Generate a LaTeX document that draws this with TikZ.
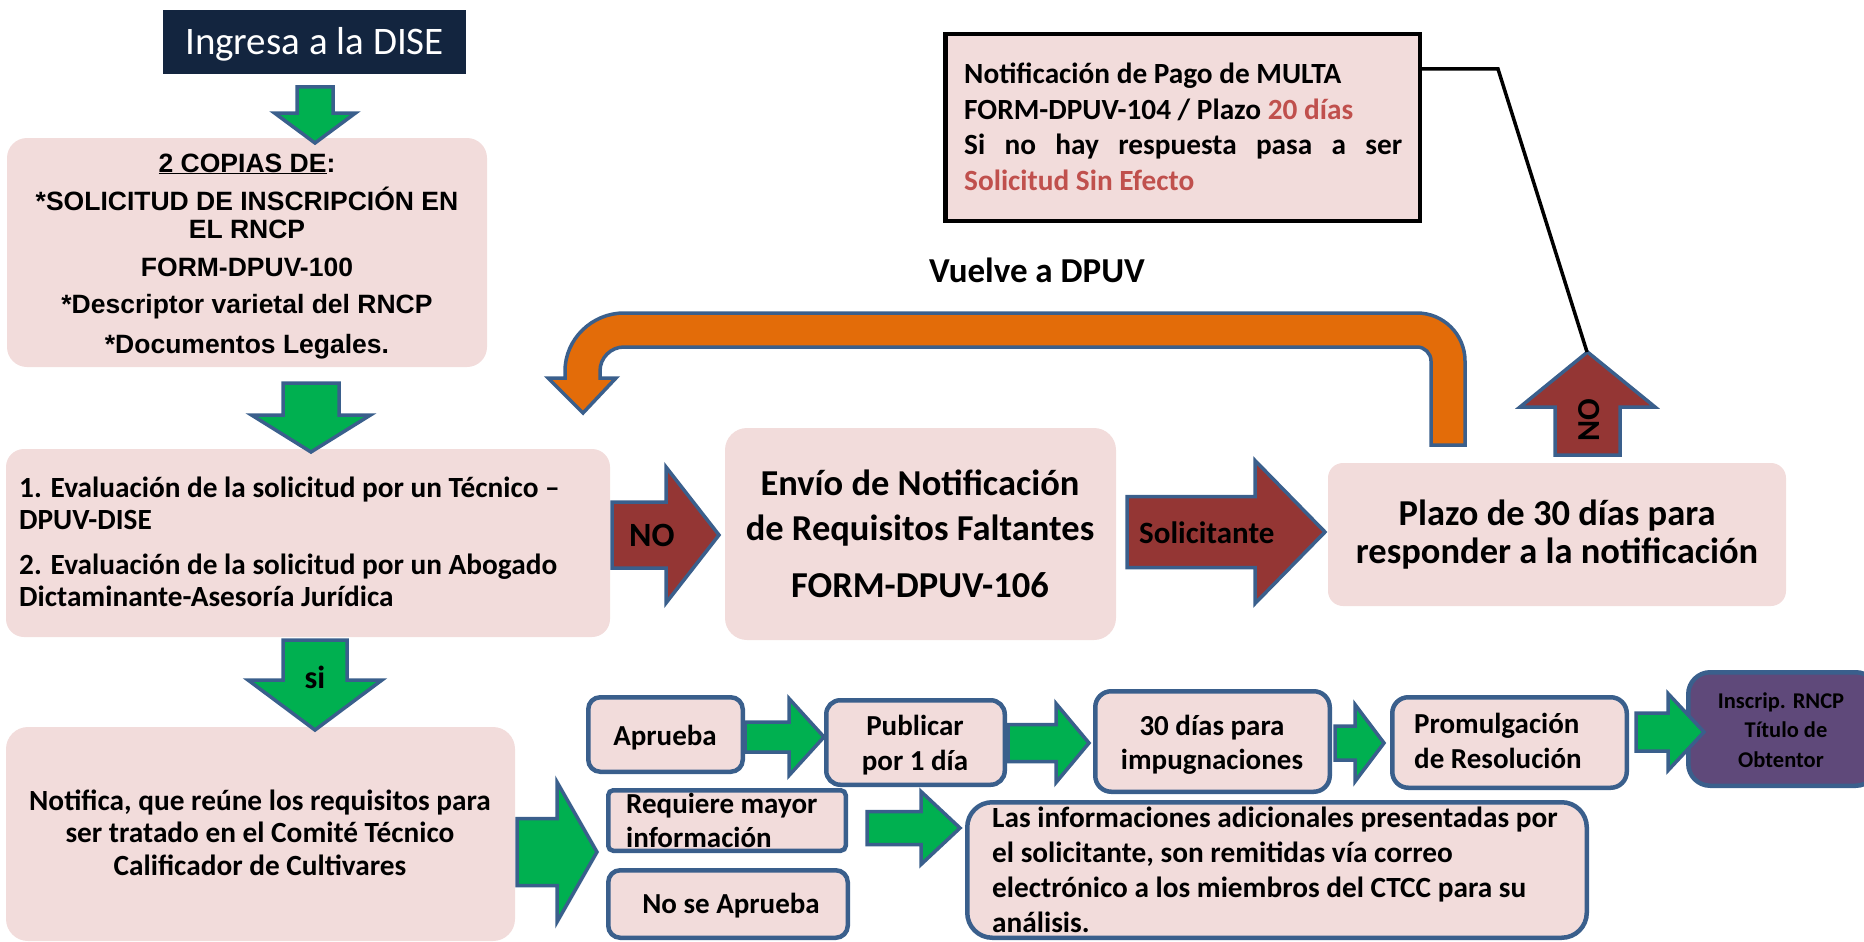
\documentclass[tikz,border=0pt]{standalone}
\usepackage{fontspec}
\setmainfont{Carlito}
\newfontfamily\arialf{Liberation Sans}
\definecolor{cPink}{HTML}{F2DCDB}
\definecolor{cNavy}{HTML}{13253F}
\definecolor{cBlue}{HTML}{3A5F8C}
\definecolor{cGreen}{HTML}{00B050}
\definecolor{cDRed}{HTML}{943634}
\definecolor{cOrange}{HTML}{E36C09}
\definecolor{cRed}{HTML}{C0504D}
\definecolor{cPurple}{HTML}{5F497A}
\newcommand\fs[2]{\fontsize{#1}{#2}\selectfont}
% right block arrow: x1 x2 x3 yc shaft-half head-half style
\newcommand\harrow[7]{\draw[#7] (#1,#4-#5) -- (#2,#4-#5) -- (#2,#4-#6) -- (#3,#4) -- (#2,#4+#6) -- (#2,#4+#5) -- (#1,#4+#5) -- cycle;}
% vertical block arrow: ystart ybase ytip xc shaft-half head-half style
\newcommand\varrow[7]{\draw[#7] (#4-#5,#1) -- (#4+#5,#1) -- (#4+#5,#2) -- (#4+#6,#2) -- (#4,#3) -- (#4-#6,#2) -- (#4-#5,#2) -- cycle;}
\tikzset{
  pbox/.style={rectangle, fill=cPink, inner sep=0pt},
  bbox/.style={rectangle, fill=cPink, draw=cBlue, line width=4.5pt, inner sep=0pt},
  txt/.style={inner sep=0pt, anchor=base, font=\bfseries},
  garr/.style={fill=cGreen, draw=cBlue, line width=3.5pt, line join=miter},
  rarr/.style={fill=cDRed, draw=cBlue, line width=3.5pt, line join=miter},
}
\begin{document}
\begin{tikzpicture}[x=1pt,y=-1pt]
\useasboundingbox (0,0) rectangle (1864,942);

% ---- boxes ----
\node[rectangle, fill=cNavy, minimum width=303pt, minimum height=64pt, inner sep=0pt] (ingresa) at (314.5,42) {};
\node[pbox, rounded corners=20pt, minimum width=480pt, minimum height=229pt] (copias) at (247,252.5) {};
\node[pbox, draw=black, line width=4.5pt, minimum width=474.5pt, minimum height=186.5pt] (nbox) at (1182.5,127.5) {};
\node[pbox, rounded corners=18pt, minimum width=604pt, minimum height=188pt] (eval) at (308,543) {};
\node[pbox, rounded corners=22pt, minimum width=391pt, minimum height=212pt] (envio) at (920.5,534) {};
\node[pbox, rounded corners=15pt, minimum width=458pt, minimum height=143pt] (plazo) at (1557,534.5) {};
\node[pbox, rounded corners=22pt, minimum width=509pt, minimum height=214pt] (notifica) at (260.5,834) {};
\node[bbox, rounded corners=12pt, minimum width=154.5pt, minimum height=74.5pt] (aprueba) at (665.5,734.5) {};
\node[bbox, rounded corners=14pt, minimum width=178.5pt, minimum height=84.5pt] (publicar) at (915.5,742.5) {};
\node[bbox, rounded corners=16pt, minimum width=234.5pt, minimum height=100.5pt] (dias) at (1212.5,741.5) {};
\node[bbox, rounded corners=16pt, minimum width=234.5pt, minimum height=90.5pt] (prom) at (1509.5,742.5) {};
\node[bbox, fill=cPurple, rounded corners=22pt, minimum width=189.5pt, minimum height=113.5pt] (inscr) at (1783,729) {};
\node[bbox, rounded corners=5pt, minimum width=237.5pt, minimum height=60.5pt] (req) at (727,820.5) {};
\node[bbox, rounded corners=12pt, minimum width=239.5pt, minimum height=67.5pt] (nose) at (728,904) {};
\node[bbox, rounded corners=25pt, minimum width=619.5pt, minimum height=135.5pt] (lasinfo) at (1277,870) {};

% ---- block arrows ----
\varrow{87}{113}{143}{315}{18}{40.5}{garr}
\varrow{383}{415}{452}{311}{28}{59.5}{garr}
\varrow{640}{680}{730}{315}{32}{67}{garr}
\varrow{455}{407}{352}{1587.5}{32.5}{67.5}{rarr}
\harrow{612}{666}{719}{535}{33}{68}{rarr}
\harrow{1127}{1255}{1325}{532}{35.5}{71.5}{rarr}
\harrow{517}{557}{597}{852}{33.5}{70}{garr}
\harrow{745}{789}{824}{737}{15}{38.5}{garr}
\harrow{1008}{1056}{1089}{743}{18.5}{39.5}{garr}
\harrow{1335}{1355}{1384}{743}{17}{38.5}{garr}
\harrow{1636}{1668}{1704}{732}{19}{38.5}{garr}
\harrow{867}{921}{960}{828}{16.5}{36.5}{garr}

% orange return arrow
\draw[fill=cOrange, draw=cBlue, line width=3.5pt, line join=miter]
  (1465,445) -- (1465,361) .. controls (1465,334.5) and (1443.5,313) .. (1417,313)
  -- (624,313) .. controls (592,313) and (565,339) .. (565,371)
  -- (565,378) -- (548,378) -- (583,413) -- (616,378) -- (600,378) -- (600,371)
  .. controls (600,357.8) and (610.8,347) .. (624,347)
  -- (1417,347) .. controls (1424.7,347) and (1431,353.3) .. (1431,361)
  -- (1431,445) -- cycle;

% connector from the MULTA box to the NO arrow
\coordinate (notip) at (1587,352);
\draw[line width=3.5pt] ([yshift=58.5pt]nbox.east) -- ++(76,0) -- (notip);

% ---- texts ----
\node[inner sep=0pt, anchor=base, text=white] (ingresat) at (314.5,55) {\fs{39}{44}Ingresa a la DISE};
\node[txt] (copiast) at (247,172) {\parbox[t]{470pt}{\centering\arialf\bfseries\fs{26.5}{28}\underline{2 COPIAS DE}:\\[10pt]
  *SOLICITUD DE INSCRIPCIÓN EN\\ EL RNCP\\[10pt] FORM-DPUV-100\\[9pt] *Descriptor varietal del RNCP\\[12pt] *Documentos Legales.}};
\node[txt, anchor=base west] (nboxt) at (964,84) {\parbox[t]{438pt}{\raggedright\fs{29.3}{35.5}Notificación de Pago de MULTA\\
  FORM-DPUV-104 / Plazo \textcolor{cRed}{20 días}\\ \makebox[438pt][s]{Si no hay respuesta pasa a ser}\\ \textcolor{cRed}{Solicitud Sin Efecto}}};
\node[txt] (vuelve) at (1037,282) {\fs{35}{40}Vuelve a DPUV};
\node[txt, anchor=base west] (evalt) at (19,497) {\parbox[t]{590pt}{\raggedright\fs{29.3}{32}1. Evaluación de la solicitud por un Técnico –\\
  DPUV-DISE\\[13pt] 2. Evaluación de la solicitud por un Abogado\\ Dictaminante-Asesoría Jurídica}};
\node[txt] (enviot) at (920,495) {\parbox[t]{390pt}{\centering\fs{36.5}{45}Envío de Notificación\\ de Requisitos Faltantes\\[12pt] FORM-DPUV-106}};
\node[txt] (plazot) at (1557,525) {\parbox[t]{450pt}{\centering\fs{36.5}{38}Plazo de 30 días para\\ responder a la notificación}};
\node[txt] (notificat) at (260,810) {\parbox[t]{500pt}{\centering\fs{29.3}{32.5}Notifica, que reúne los requisitos para\\ ser tratado en el Comité Técnico\\ Calificador de Cultivares}};
\node[txt] (apruebat) at (665,745) {\fs{29}{34}Aprueba};
\node[txt] (publicart) at (915,735) {\parbox[t]{175pt}{\centering\fs{29}{35}Publicar\\ por 1 día}};
\node[txt] (diast) at (1212,735) {\parbox[t]{230pt}{\centering\fs{29}{34}30 días para\\ impugnaciones}};
\node[txt, anchor=base west] (promt) at (1414,733) {\parbox[t]{210pt}{\raggedright\fs{29}{35}Promulgación\\ de Resolución}};
\node[txt] (inscrt) at (1781,708) {\parbox[t]{180pt}{\centering\fs{22.5}{29.5}Inscrip. RNCP\\ \hspace*{10pt}Título de\\ Obtentor}};
\node[txt, anchor=base west] (reqt) at (626,813) {\parbox[t]{230pt}{\raggedright\fs{29}{34}Requiere mayor\\ información}};
\node[txt] (noset) at (731,913) {\fs{29}{34}No se Aprueba};
\node[txt, anchor=base west] (lasinfot) at (992,827) {\parbox[t]{600pt}{\raggedright\fs{29.3}{35}Las informaciones adicionales presentadas por\\
  el solicitante, son remitidas vía correo\\ electrónico a los miembros del CTCC para su\\ análisis.}};
\node[txt, anchor=base west] (nolabel) at (629,546) {\fs{34}{36}NO};
\node[txt, anchor=base west] (solict) at (1139,543) {\fs{31}{36}Solicitante};
\node[txt] (silabel) at (315,688) {\fs{32}{36}si};
\node[inner sep=0pt, font=\bfseries, rotate=90] (noup) at (1589,420) {\fs{32}{36}NO};
\end{tikzpicture}
\end{document}
